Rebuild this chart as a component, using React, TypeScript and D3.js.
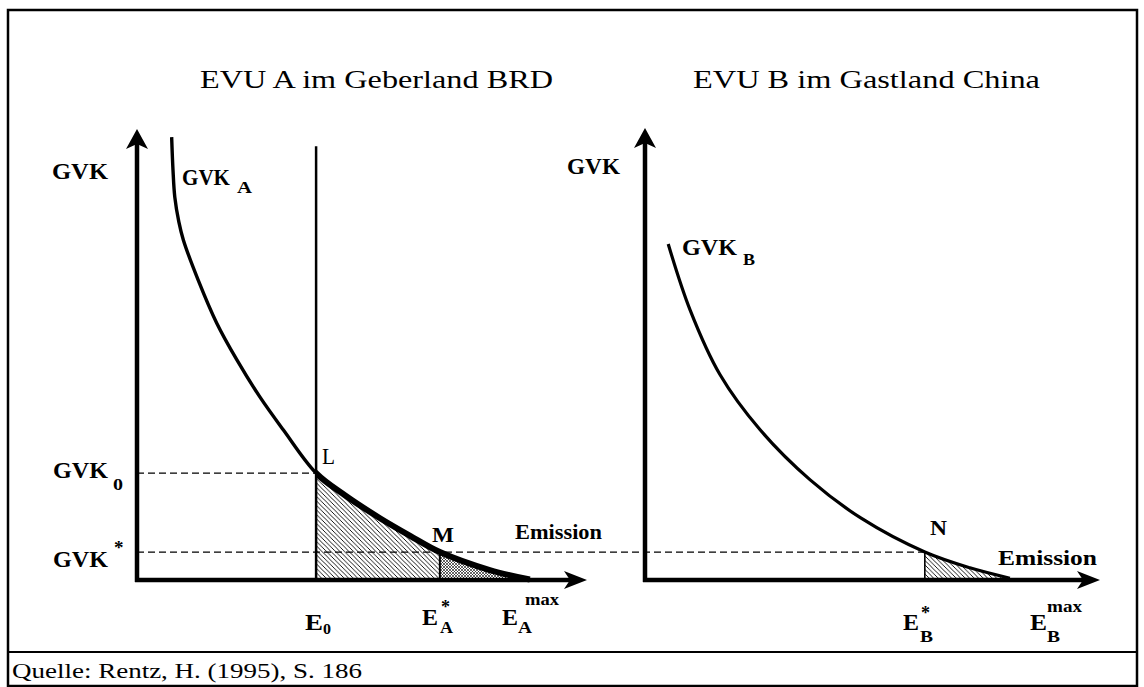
import React from "react";
import * as d3 from "d3";

// curve points, abstract units (emission 0..100, GVK 0..100)
const emissionA = [7.7, 8.0, 8.4, 9.3, 10.3, 13.6, 17.7, 22.2, 27.3, 32.5, 39.8, 46.2, 54.0, 60.7, 67.3, 78.4, 87.3];
const gvkA = [98.2, 90.9, 84.9, 79.4, 75.4, 66.5, 57.0, 48.8, 40.6, 33.3, 23.7, 18.8, 13.7, 9.8, 6.2, 2.2, 0.1];
const emissionB = [5.1, 9.9, 16.5, 25.3, 36.3, 47.5, 61.5, 71.4, 80.2];
const gvkB = [74.5, 59.9, 45.5, 33.3, 22.2, 13.7, 6.2, 2.7, 0.4];

// reference levels
const e0 = 39.8;
const e0Top = 96.2;
const eStarA = 67.3;
const eMaxA = 87.3;
const eStarB = 61.5;
const eMaxB = 80.2;
const gvk0 = 23.7;
const gvkStar = 6.2;

const titles = ["EVU A im Geberland BRD", "EVU B im Gastland China"];
const source = "Quelle: Rentz, H. (1995), S. 186";

const FONT = "'Liberation Serif', 'Times New Roman', serif";

type TxtProps = {
  x: number;
  y: number;
  w?: number;
  size: number;
  bold?: boolean;
  children: string;
};

const Txt = ({ x, y, w, size, bold, children }: TxtProps) => (
  <text
    x={x}
    y={y}
    fontFamily={FONT}
    fontSize={size}
    fontWeight={bold ? "bold" : "normal"}
    textLength={w}
    lengthAdjust={w ? "spacingAndGlyphs" : undefined}
    fill="#000"
  >
    {children}
  </text>
);

const arrowUp = (x: number, tip: number) =>
  `M${x},${tip} L${x + 11},${tip + 20} L${x},${tip + 15} L${x - 11},${tip + 20} Z`;
const arrowRight = (tip: number, y: number) =>
  `M${tip},${y} L${tip - 23},${y - 9} L${tip - 17},${y} L${tip - 23},${y + 9} Z`;

export default function App() {
  const xA = d3.scaleLinear().domain([0, 100]).range([137, 587]);
  const xB = d3.scaleLinear().domain([0, 100]).range([645, 1100]);
  const y = d3.scaleLinear().domain([0, 100]).range([580, 129]);

  const ptsA = emissionA.map((e, i) => [e, gvkA[i]] as [number, number]);
  const ptsB = emissionB.map((e, i) => [e, gvkB[i]] as [number, number]);

  const smooth = d3.curveCatmullRom.alpha(0.5);

  const lineA = d3
    .line<[number, number]>()
    .x((d) => xA(d[0]))
    .y((d) => y(d[1]))
    .curve(smooth);
  const areaA = d3
    .area<[number, number]>()
    .x((d) => xA(d[0]))
    .y0(y(0))
    .y1((d) => y(d[1]))
    .curve(smooth);
  const lineB = d3
    .line<[number, number]>()
    .x((d) => xB(d[0]))
    .y((d) => y(d[1]))
    .curve(smooth);
  const areaB = d3
    .area<[number, number]>()
    .x((d) => xB(d[0]))
    .y0(y(0))
    .y1((d) => y(d[1]))
    .curve(smooth);

  const y0 = y(0);

  return (
    <svg
      width={1144}
      height={687}
      style={{ position: "absolute", left: 0, top: 0, background: "#fff" }}
    >
      <defs>
        <pattern id="hatch" patternUnits="userSpaceOnUse" width="4.5" height="4.5">
          <path
            d="M0,0 L4.5,4.5 M-1,3.5 L1,5.5 M3.5,-1 L5.5,1"
            stroke="#000"
            strokeWidth="0.9"
          />
        </pattern>
        <pattern id="cross" patternUnits="userSpaceOnUse" width="3" height="3">
          <path d="M0,0 L3,3 M3,0 L0,3" stroke="#000" strokeWidth="0.6" />
        </pattern>
        <clipPath id="clipA1">
          <rect x={xA(e0)} y={0} width={xA(eStarA) - xA(e0)} height={687} />
        </clipPath>
        <clipPath id="clipA2">
          <rect x={xA(eStarA)} y={0} width={xA(eMaxA) - xA(eStarA)} height={687} />
        </clipPath>
        <clipPath id="clipAThick">
          <rect x={xA(e0)} y={0} width={400} height={687} />
        </clipPath>
        <clipPath id="clipB1">
          <rect x={xB(eStarB)} y={0} width={xB(eMaxB) - xB(eStarB)} height={687} />
        </clipPath>
      </defs>

      {/* frame */}
      <rect x={8} y={10} width={1129} height={676} fill="none" stroke="#000" strokeWidth={2.5} />
      <line x1={8} x2={1137} y1={652} y2={652} stroke="#000" strokeWidth={2} />

      {/* titles */}
      <Txt x={200} y={88} w={353} size={26}>{titles[0]}</Txt>
      <Txt x={693} y={88} w={347} size={26}>{titles[1]}</Txt>

      {/* ---- panel A ---- */}
      <path d={areaA(ptsA) ?? ""} fill="url(#hatch)" clipPath="url(#clipA1)" />
      <path d={areaA(ptsA) ?? ""} fill="url(#cross)" clipPath="url(#clipA2)" />

      <line x1={xA(0)} x2={xA(e0)} y1={y(gvk0)} y2={y(gvk0)} stroke="#000" strokeWidth={1.3} strokeDasharray="7 4" />
      <line x1={xA(0)} x2={xB(eStarB)} y1={y(gvkStar)} y2={y(gvkStar)} stroke="#000" strokeWidth={1.3} strokeDasharray="7 4" />

      <line x1={xA(e0)} x2={xA(e0)} y1={y(e0Top)} y2={y0} stroke="#000" strokeWidth={2.5} />
      <line x1={xA(eStarA)} x2={xA(eStarA)} y1={y(gvkStar)} y2={y0} stroke="#000" strokeWidth={2} />

      <path d={lineA(ptsA) ?? ""} fill="none" stroke="#000" strokeWidth={3.4} />
      <path d={lineA(ptsA) ?? ""} fill="none" stroke="#000" strokeWidth={6} clipPath="url(#clipAThick)" />

      {/* axes A */}
      <line x1={xA(0)} x2={xA(0)} y1={y0 + 2} y2={y(100) + 12} stroke="#000" strokeWidth={4.5} />
      <path d={arrowUp(xA(0), y(100))} fill="#000" />
      <line x1={xA(0) - 2} x2={xA(100) - 14} y1={y0} y2={y0} stroke="#000" strokeWidth={4.5} />
      <path d={arrowRight(xA(100), y0)} fill="#000" />

      {/* ---- panel B ---- */}
      <path d={areaB(ptsB) ?? ""} fill="url(#hatch)" clipPath="url(#clipB1)" />
      <line x1={xB(eStarB)} x2={xB(eStarB)} y1={y(gvkStar)} y2={y0} stroke="#000" strokeWidth={1.6} />
      <path d={lineB(ptsB) ?? ""} fill="none" stroke="#000" strokeWidth={3.2} />

      <line x1={xB(0)} x2={xB(0)} y1={y0 + 2} y2={y(100) + 12} stroke="#000" strokeWidth={4.5} />
      <path d={arrowUp(xB(0), y(100) - 1)} fill="#000" />
      <line x1={xB(0) - 2} x2={xB(100) - 14} y1={y0} y2={y0} stroke="#000" strokeWidth={4.5} />
      <path d={arrowRight(xB(100), y0)} fill="#000" />

      {/* labels A */}
      <Txt x={52} y={179} w={56} size={23} bold>GVK</Txt>
      <Txt x={182} y={185} w={48} size={23} bold>GVK</Txt>
      <Txt x={237} y={193} w={15} size={16} bold>A</Txt>
      <Txt x={53} y={478} w={55} size={23} bold>GVK</Txt>
      <Txt x={113} y={490} w={10} size={16} bold>0</Txt>
      <Txt x={53} y={567} w={55} size={23} bold>GVK</Txt>
      <Txt x={114} y={554} size={19} bold>*</Txt>
      <Txt x={322} y={464} w={13} size={23}>L</Txt>
      <Txt x={432} y={542} w={22} size={21} bold>M</Txt>
      <Txt x={515} y={539} w={87} size={21} bold>Emission</Txt>
      <Txt x={305} y={630} w={18} size={23} bold>E</Txt>
      <Txt x={323} y={634} w={8} size={15} bold>0</Txt>
      <Txt x={422} y={625} w={16} size={23} bold>E</Txt>
      <Txt x={440} y={633} w={13} size={16} bold>A</Txt>
      <Txt x={441} y={613} size={18} bold>*</Txt>
      <Txt x={502} y={625} w={16} size={23} bold>E</Txt>
      <Txt x={518} y={633} w={14} size={16} bold>A</Txt>
      <Txt x={525} y={605} w={34} size={16} bold>max</Txt>

      {/* labels B */}
      <Txt x={567} y={174} w={53} size={23} bold>GVK</Txt>
      <Txt x={682} y={255} w={55} size={23} bold>GVK</Txt>
      <Txt x={743} y={265} w={12} size={16} bold>B</Txt>
      <Txt x={930} y={535} w={17} size={20} bold>N</Txt>
      <Txt x={998} y={565} w={99} size={22} bold>Emission</Txt>
      <Txt x={903} y={630} w={16} size={23} bold>E</Txt>
      <Txt x={920} y={642} w={13} size={16} bold>B</Txt>
      <Txt x={921} y={619} size={18} bold>*</Txt>
      <Txt x={1030} y={630} w={17} size={23} bold>E</Txt>
      <Txt x={1047} y={642} w={13} size={16} bold>B</Txt>
      <Txt x={1047} y={612} w={35} size={16} bold>max</Txt>

      {/* source */}
      <Txt x={12} y={678} w={350} size={20.5}>{source}</Txt>
    </svg>
  );
}
